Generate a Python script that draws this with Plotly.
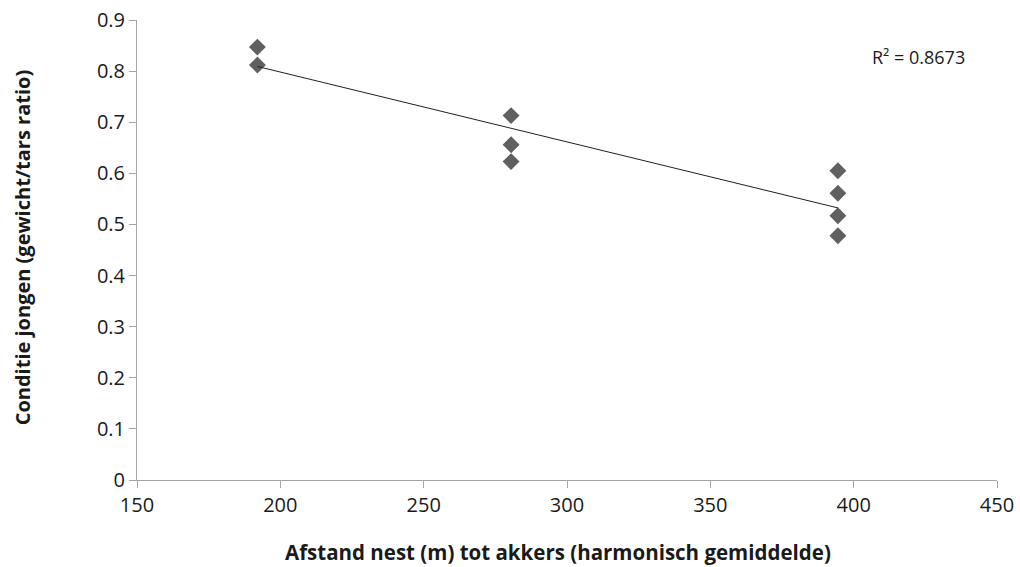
import numpy as np
import plotly.graph_objects as go

# afstand nest tot akkers (m) en conditie jongen
afstand = [192, 192, 280.5, 280.5, 280.5, 394.5, 394.5, 394.5, 394.5]
conditie = [0.847, 0.812, 0.713, 0.656, 0.623, 0.605, 0.561, 0.517, 0.478]
r2_label = "R² = 0.8673"
x_ticks = [150, 200, 250, 300, 350, 400, 450]
y_ticks = [0, 0.1, 0.2, 0.3, 0.4, 0.5, 0.6, 0.7, 0.8, 0.9]
y_ticktext = ['0', '0.1', '0.2', '0.3', '0.4', '0.5', '0.6', '0.7', '0.8', '0.9']

FONT = "Open Sans"


def trendlijn(x, y):
    """
    :param x: afstanden
    :param y: conditie waarden
    :return: x en y van de lineaire trendlijn (begin en eind)
    """
    a, b = np.polyfit(x, y, 1)
    xs = [min(x), max(x)]
    return xs, [a * v + b for v in xs]


tx, ty = trendlijn(afstand, conditie)

fig = go.Figure()
fig.add_trace(go.Scatter(x=afstand, y=conditie, mode='markers',
                         marker=dict(symbol='diamond', size=13, color='#606060'),
                         showlegend=False))
fig.add_trace(go.Scatter(x=tx, y=ty, mode='lines',
                         line=dict(color='#202020', width=1), showlegend=False))

fig.add_annotation(x=0.909, y=0.92, xref='paper', yref='paper', text=r2_label,
                   showarrow=False, xanchor='center', yanchor='middle',
                   font=dict(family=FONT, size=18, color='#1a1a1a'))
# titels als annotaties zodat de positie vast ligt
fig.add_annotation(x=0.49, y=-0.157, xref='paper', yref='paper',
                   text='<b>Afstand nest (m) tot akkers (harmonisch gemiddelde)</b>',
                   showarrow=False, xanchor='center', yanchor='middle',
                   font=dict(family=FONT, size=20.5, color='#1a1a1a'))
fig.add_annotation(x=-0.133, y=0.505, xref='paper', yref='paper',
                   text='<b>Conditie jongen (gewicht/tars ratio)</b>', textangle=-90,
                   showarrow=False, xanchor='center', yanchor='middle',
                   font=dict(family=FONT, size=20, color='#1a1a1a'))

fig.update_layout(
    width=1020, height=567,
    margin=dict(l=137, r=23, t=20, b=87),
    plot_bgcolor='white', paper_bgcolor='white',
    font=dict(family=FONT, size=20, color='#1a1a1a'),
    xaxis=dict(range=[150, 450], tickvals=x_ticks, automargin=False,
               showgrid=False, zeroline=False, showline=True, linecolor='#a6a6a6',
               linewidth=1, ticks='outside', ticklen=7, tickcolor='#a6a6a6',
               tickfont=dict(size=20), ticklabeloverflow='allow'),
    yaxis=dict(range=[0, 0.9], tickvals=y_ticks, ticktext=y_ticktext, automargin=False,
               showgrid=False, zeroline=False, showline=True, linecolor='#a6a6a6',
               linewidth=1, ticks='outside', ticklen=7, tickcolor='#a6a6a6',
               tickfont=dict(size=20), ticklabeloverflow='allow'),
)

# body marge weg zodat de figuur precies in het venster past
fig.write_html("out.html", config={'displayModeBar': False},
               post_script="document.body.style.margin = '0';")
